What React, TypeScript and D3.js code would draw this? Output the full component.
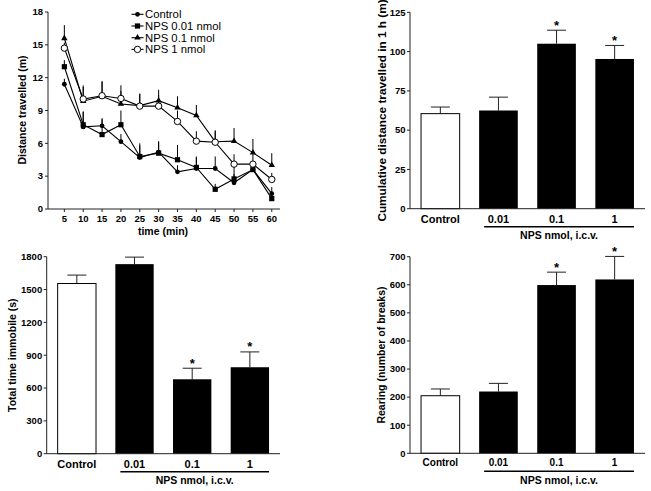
import React from "react";
import * as d3 from "d3";

// ---------- data ----------
const times = [5, 10, 15, 20, 25, 30, 35, 40, 45, 50, 55, 60];
const control = [11.4, 7.5, 7.6, 6.15, 4.7, 5.2, 3.4, 3.7, 3.7, 2.4, 3.6, 1.4];
const controlErr = [0.5, 1.4, 0.6, 0.7, 1.1, 1.0, 0.6, 1.0, 1.1, 0.8, 0.4, 0.6];
const nps001 = [13.0, 7.7, 6.8, 7.7, 4.8, 5.1, 4.5, 3.8, 1.8, 2.75, 3.6, 0.95];
const nps001Err = [0.6, 1.2, 1.5, 1.3, 1.2, 1.0, 1.35, 1.0, 0.5, 1.4, 0.4, 0.6];
const nps01 = [15.6, 9.85, 10.3, 9.6, 9.45, 9.9, 9.25, 8.55, 6.15, 6.2, 5.15, 4.0];
const nps01Err = [1.2, 1.3, 1.3, 1.2, 1.1, 1.0, 1.05, 0.95, 1.05, 1.2, 1.25, 1.1];
const nps1 = [14.7, 10.05, 10.35, 10.1, 9.4, 9.4, 8.0, 6.2, 6.1, 4.1, 4.1, 2.7];
const nps1Err = [0.5, 1.25, 1.35, 1.2, 1.1, 1.0, 1.0, 0.9, 1.0, 0.9, 0.9, 0.6];
const seriesNames = ["Control", "NPS 0.01 nmol", "NPS 0.1 nmol", "NPS 1 nmol"];
const lineYTicks = [0, 3, 6, 9, 12, 15, 18];

const categories = ["Control", "0.01", "0.1", "1"];
const significant = [false, false, true, true];
const cumDist = [60.5, 62.5, 105, 95.3];
const cumDistErr = [4.2, 8.5, 8.6, 8.6];
const cumTicks = [0, 25, 50, 75, 100, 125];
const immobile = [1555, 1732, 680, 790];
const immobileErr = [77, 64, 101, 140];
const immobileTicks = [0, 300, 600, 900, 1200, 1500, 1800];
const rearing = [205, 220, 599, 619];
const rearingErr = [24, 29, 46, 82];
const rearingTicks = [0, 100, 200, 300, 400, 500, 600, 700];

const FONT = "'Liberation Sans', Arial, Helvetica, sans-serif";
const AX = "#222";

function Marker({ kind, x, y }: { kind: number; x: number; y: number }) {
  if (kind === 0) return <circle cx={x} cy={y} r={2.4} fill="#000" />;
  if (kind === 1) return <rect x={x - 2.6} y={y - 2.6} width={5.2} height={5.2} fill="#000" />;
  if (kind === 2) {
    const p = d3.symbol().type(d3.symbolTriangle).size(18)();
    return <path d={p || ""} transform={`translate(${x},${y})`} fill="#000" />;
  }
  return <circle cx={x} cy={y} r={3.2} fill="#fff" stroke="#000" strokeWidth={1} />;
}

function LineChart() {
  const x = d3.scaleLinear().domain([0, 62.5]).range([45.5, 281.2]);
  const y = d3.scaleLinear().domain([0, 18]).range([209, 12]);
  const all = [control, nps001, nps01, nps1];
  const errs = [controlErr, nps001Err, nps01Err, nps1Err];
  const line = d3
    .line<number>()
    .x((_, i) => x(times[i]))
    .y((d) => y(d));
  const axL = 48;
  const legendY = [14.3, 26, 37.7, 49.4];
  return (
    <g>
      {all.map((s, si) =>
        s.map((v, i) => (
          <line
            key={`e${si}-${i}`}
            x1={x(times[i])}
            x2={x(times[i])}
            y1={y(v)}
            y2={y(v + errs[si][i])}
            stroke="#000"
            strokeWidth={1}
          />
        ))
      )}
      {all.map((s, si) => (
        <path key={`l${si}`} d={line(s) || ""} fill="none" stroke="#000" strokeWidth={1.1} />
      ))}
      {all.map((s, si) =>
        s.map((v, i) => <Marker key={`m${si}-${i}`} kind={si} x={x(times[i])} y={y(v)} />)
      )}
      <line x1={axL} x2={axL} y1={y(18)} y2={y(0)} stroke={AX} strokeWidth={1} />
      <line x1={axL} x2={280} y1={y(0)} y2={y(0)} stroke={AX} strokeWidth={1} />
      {lineYTicks.map((t) => (
        <g key={`yt${t}`}>
          <line x1={axL - 3} x2={axL} y1={y(t)} y2={y(t)} stroke={AX} />
          <text x={axL - 5} y={y(t)} dy="0.35em" textAnchor="end" fontSize={9.5} fontWeight="bold" fontFamily={FONT}>
            {t}
          </text>
        </g>
      ))}
      {times.map((t) => (
        <g key={`xt${t}`}>
          <line x1={x(t)} x2={x(t)} y1={y(0)} y2={y(0) + 3} stroke={AX} />
          <text x={x(t)} y={y(0) + 13} textAnchor="middle" fontSize={9.5} fontWeight="bold" fontFamily={FONT}>
            {t}
          </text>
        </g>
      ))}
      <text x={163} y={235} textAnchor="middle" fontSize={10.5} fontWeight="bold" fontFamily={FONT}>
        time (min)
      </text>
      <text
        transform={`translate(26,110) rotate(-90)`}
        textAnchor="middle"
        fontSize={10.5}
        fontWeight="bold"
        fontFamily={FONT}
      >
        Distance travelled (m)
      </text>
      {seriesNames.map((n, i) => (
        <g key={`lg${i}`}>
          <line x1={131.5} x2={143.5} y1={legendY[i]} y2={legendY[i]} stroke="#000" strokeWidth={1.1} />
          <Marker kind={i} x={137.5} y={legendY[i]} />
          <text x={145} y={legendY[i]} dy="0.36em" fontSize={11.3} fontFamily={FONT}>
            {n}
          </text>
        </g>
      ))}
    </g>
  );
}

type BarProps = {
  values: number[];
  errs: number[];
  ticks: number[];
  yMax: number;
  yRange: [number, number];
  xRange: [number, number];
  title: string;
  titleX: number;
  titleFont: number;
  catFont: number;
  catDy: number;
};

function BarChart({ values, errs, ticks, yMax, yRange, xRange, title, titleX, titleFont, catFont, catDy }: BarProps) {
  const y = d3.scaleLinear().domain([0, yMax]).range(yRange);
  const x = d3.scaleBand<string>().domain(categories).range(xRange).paddingInner(0.335).paddingOuter(0.19);
  const bw = x.bandwidth();
  const y0 = y(0);
  const axL = xRange[0];
  const capW = 19;
  const catY = y0 + catDy;
  const lineY = y0 + 18;
  const x1 = x("0.01")!;
  const x3 = x("1")! + bw;
  const midY = (yRange[0] + yRange[1]) / 2;
  return (
    <g>
      {values.map((v, i) => {
        const c = categories[i];
        const cx = x(c)! + bw / 2;
        const top = y(v + errs[i]);
        return (
          <g key={c}>
            <line x1={cx} x2={cx} y1={y(v)} y2={top} stroke="#222" strokeWidth={1} />
            <line x1={cx - capW / 2} x2={cx + capW / 2} y1={top} y2={top} stroke="#222" strokeWidth={1} />
            <rect
              x={x(c)!}
              y={y(v)}
              width={bw}
              height={y0 - y(v)}
              fill={i === 0 ? "#fff" : "#000"}
              stroke="#000"
              strokeWidth={i === 0 ? 1 : 0}
            />
            {significant[i] && (
              <text x={cx} y={top - 0.5} textAnchor="middle" fontSize={13} fontWeight="bold" fontFamily={FONT}>
                *
              </text>
            )}
            <text x={cx} y={catY} dy="0.35em" textAnchor="middle" fontSize={catFont} fontWeight="bold" fontFamily={FONT}>
              {c}
            </text>
          </g>
        );
      })}
      <line x1={axL} x2={axL} y1={yRange[1]} y2={y0} stroke={AX} strokeWidth={1} />
      <line x1={axL} x2={xRange[1]} y1={y0} y2={y0} stroke={AX} strokeWidth={1} />
      {ticks.map((t) => (
        <g key={t}>
          <line x1={axL - 3} x2={axL} y1={y(t)} y2={y(t)} stroke={AX} />
          <text x={axL - 4.5} y={y(t)} dy="0.35em" textAnchor="end" fontSize={9.5} fontWeight="bold" fontFamily={FONT}>
            {t}
          </text>
        </g>
      ))}
      <line x1={x1 + 5} x2={x3} y1={lineY} y2={lineY} stroke="#000" strokeWidth={1.6} />
      <text x={(x1 + 5 + x3) / 2} y={lineY + 9} dy="0.35em" textAnchor="middle" fontSize={10.5} fontWeight="bold" fontFamily={FONT}>
        NPS nmol, i.c.v.
      </text>
      <text
        transform={`translate(${titleX},${midY}) rotate(-90)`}
        textAnchor="middle"
        fontSize={titleFont}
        fontWeight="bold"
        fontFamily={FONT}
      >
        {title}
      </text>
    </g>
  );
}

export default function App() {
  return (
    <svg width={651} height={491} style={{ position: "absolute", left: 0, top: 0, background: "#fff" }}>
      <rect width={651} height={491} fill="#fff" />
      <LineChart />
      <BarChart
        values={cumDist}
        errs={cumDistErr}
        ticks={cumTicks}
        yMax={125}
        yRange={[208.7, 12.3]}
        xRange={[410, 645]}
        title="Cumulative distance travelled in 1 h (m)"
        titleX={386}
        titleFont={11.8}
        catFont={11}
        catDy={10.5}
      />
      <BarChart
        values={immobile}
        errs={immobileErr}
        ticks={immobileTicks}
        yMax={1800}
        yRange={[453.7, 256.7]}
        xRange={[46.7, 280]}
        title="Total time immobile (s)"
        titleX={16}
        titleFont={10.5}
        catFont={11}
        catDy={10}
      />
      <BarChart
        values={rearing}
        errs={rearingErr}
        ticks={rearingTicks}
        yMax={700}
        yRange={[453.3, 256.7]}
        xRange={[410, 645]}
        title="Rearing (number of breaks)"
        titleX={385}
        titleFont={10.5}
        catFont={10}
        catDy={9}
      />
    </svg>
  );
}
